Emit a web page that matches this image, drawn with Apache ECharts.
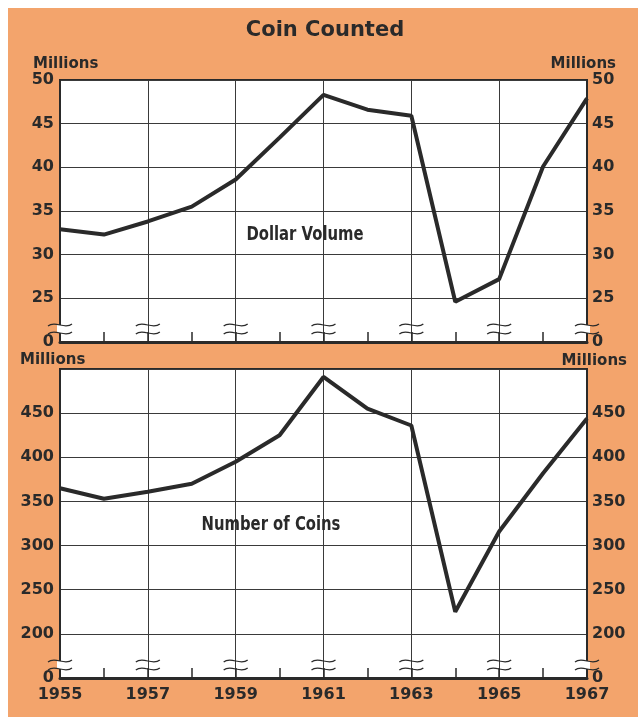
<!DOCTYPE html>
<html>
<head>
<meta charset="utf-8">
<script src="https://cdn.jsdelivr.net/npm/echarts@6/dist/echarts.min.js"></script>
<style>
html,body{margin:0;padding:0;background:#fff;}
#chart{width:638px;height:717px;}
</style>
</head>
<body>
<div id="chart"></div>
<script>
// ---- data ----
const years = ['1955','1956','1957','1958','1959','1960','1961','1962','1963','1964','1965','1966','1967'];
const dollarVolume = [32.9, 32.3, 33.8, 35.5, 38.6, 43.4, 48.3, 46.6, 45.9, 24.6, 27.2, 40.1, 47.9];
const numberOfCoins = [365, 353, 361, 370, 395, 425, 491, 455, 436, 225, 316, 382, 444];
const breakYears = ['1955','1957','1959','1961','1963','1965','1967'];
const dollarAxis = { min: 20, max: 50, interval: 5 };   // 20 shown as broken "0"
const coinAxis = { min: 150, max: 500, interval: 50 };  // 150 shown as broken "0"
const titleText = 'Coin Counted';
const unitText = 'Millions';
const panelLabels = ['Dollar Volume', 'Number of Coins'];

// ---- styles ----
const INK = '#2a2a2a';
const ORANGE = '#F3A46C';
const FONT = "'DejaVu Sans', sans-serif";

const chart = echarts.init(document.getElementById('chart'), null, { renderer: 'canvas' });

function fmt(axis, hideMax) {
  return function (v) {
    if (v === axis.min) return '0';
    if (hideMax && v === axis.max) return '';
    return String(v);
  };
}

function yAxisPair(gridIndex, axis, hideMax) {
  const base = {
    type: 'value', gridIndex: gridIndex,
    min: axis.min, max: axis.max, interval: axis.interval,
    axisLine: { show: true, lineStyle: { color: INK, width: 2 } },
    axisTick: { show: false },
    splitLine: { show: true, lineStyle: { color: '#3a3a3a', width: 1 } },
    axisLabel: { color: INK, fontFamily: FONT, fontWeight: 'bold', fontSize: 16, formatter: fmt(axis, hideMax) }
  };
  const left = Object.assign({}, base, { position: 'left', axisLabel: Object.assign({}, base.axisLabel, { margin: 6 }) });
  const right = Object.assign({}, base, { position: 'right', splitLine: { show: false }, axisLabel: Object.assign({}, base.axisLabel, { margin: 5 }) });
  return [left, right];
}

function xAxisFor(gridIndex, showLabels) {
  return {
    type: 'category', gridIndex: gridIndex, data: years, boundaryGap: false,
    axisLine: { show: true, lineStyle: { color: INK, width: 3 } },
    axisTick: { show: true, inside: true, length: 10, interval: 0, lineStyle: { color: INK, width: 1.5 } },
    splitLine: { show: true, interval: 1, lineStyle: { color: '#3a3a3a', width: 1 } },
    axisLabel: { show: showLabels, interval: 1, margin: 9, color: INK, fontFamily: FONT, fontWeight: 'bold', fontSize: 16 }
  };
}

function breakSeries(xIdx, yIdx, axis) {
  return {
    type: 'custom', xAxisIndex: xIdx, yAxisIndex: yIdx, z: 10, clip: false, silent: true,
    data: breakYears.map(function (y) { return [years.indexOf(y), axis.min]; }),
    renderItem: function (params, api) {
      const p = api.coord([api.value(0), api.value(1)]);
      const x = p[0], yb = p[1];
      const idx = api.value(0);
      const edge = (idx === 0 || idx === years.length - 1);
      const children = [];
      const w1 = yb - 17, w2 = yb - 9;
      if (edge) {
        children.push({ type: 'rect', shape: { x: x - 3, y: w1, width: 6, height: w2 - w1 }, style: { fill: '#fff' } });
      }
      [w1, w2].forEach(function (wy) {
        children.push({
          type: 'bezierCurve',
          shape: { x1: x - 12, y1: wy + 1, cpx1: x - 5, cpy1: wy - 5, cpx2: x + 5, cpy2: wy + 5, x2: x + 12, y2: wy - 1 },
          style: { stroke: INK, lineWidth: 1.2, fill: null }
        });
      });
      return { type: 'group', children: children };
    }
  };
}

const unitFont = "bold 15px 'DejaVu Sans', sans-serif";
const panelFont = "bold 19px 'DejaVu Sans', sans-serif";

const option = {
  backgroundColor: '#ffffff',
  animation: false,
  graphic: [
    { type: 'rect', z: -10, shape: { x: 8, y: 8, width: 640, height: 720 }, style: { fill: ORANGE } },
    { type: 'text', x: 325, y: 31, style: { text: titleText, font: "bold 21px 'DejaVu Sans', sans-serif", fill: INK, textAlign: 'center', textVerticalAlign: 'middle' } },
    { type: 'text', x: 33, y: 64, style: { text: unitText, font: unitFont, fill: INK, textAlign: 'left', textVerticalAlign: 'middle' } },
    { type: 'text', x: 616, y: 64, style: { text: unitText, font: unitFont, fill: INK, textAlign: 'right', textVerticalAlign: 'middle' } },
    { type: 'text', x: 20, y: 360, style: { text: unitText, font: unitFont, fill: INK, textAlign: 'left', textVerticalAlign: 'middle' } },
    { type: 'text', x: 627, y: 361, style: { text: unitText, font: unitFont, fill: INK, textAlign: 'right', textVerticalAlign: 'middle' } },
    { type: 'text', z: 20, x: 305, y: 235, scaleX: 0.78, style: { text: panelLabels[0], font: panelFont, fill: INK, textAlign: 'center', textVerticalAlign: 'middle' } },
    { type: 'text', z: 20, x: 271, y: 525, scaleX: 0.78, style: { text: panelLabels[1], font: panelFont, fill: INK, textAlign: 'center', textVerticalAlign: 'middle' } }
  ],
  grid: [
    { left: 60, top: 80, width: 527, height: 262, show: true, backgroundColor: '#fff', borderColor: INK, borderWidth: 2 },
    { left: 60, top: 369, width: 527, height: 309, show: true, backgroundColor: '#fff', borderColor: INK, borderWidth: 2 }
  ],
  xAxis: [xAxisFor(0, false), xAxisFor(1, true)],
  yAxis: yAxisPair(0, dollarAxis, false).concat(yAxisPair(1, coinAxis, true)),
  series: [
    { name: panelLabels[0], type: 'line', xAxisIndex: 0, yAxisIndex: 0, data: dollarVolume, symbol: 'none', z: 5,
      lineStyle: { color: INK, width: 4 } },
    { name: panelLabels[1], type: 'line', xAxisIndex: 1, yAxisIndex: 2, data: numberOfCoins, symbol: 'none', z: 5,
      lineStyle: { color: INK, width: 4 } },
    breakSeries(0, 0, dollarAxis),
    breakSeries(1, 2, coinAxis)
  ]
};
chart.setOption(option);
</script>
</body>
</html>
